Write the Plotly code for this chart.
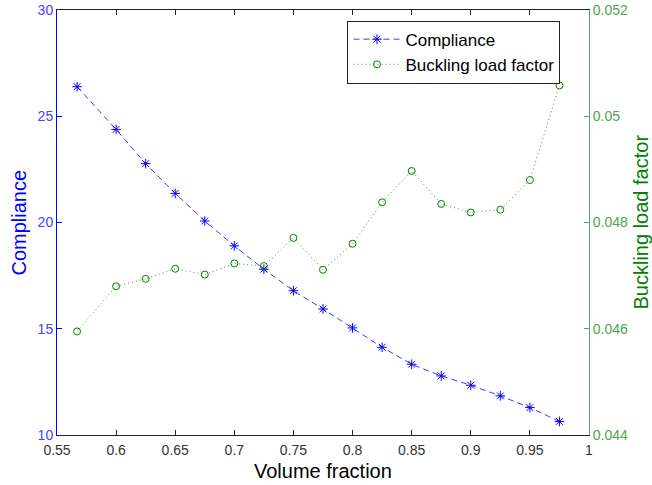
import plotly.graph_objects as go

volume_fraction = [0.567, 0.6, 0.625, 0.65, 0.675, 0.7, 0.725, 0.75, 0.775,
                   0.8, 0.825, 0.85, 0.875, 0.9, 0.925, 0.95, 0.975]
compliance = [26.39, 24.38, 22.77, 21.37, 20.07, 18.9, 17.8, 16.79, 15.93,
              15.04, 14.13, 13.33, 12.78, 12.34, 11.84, 11.29, 10.64]
buckling = [0.04595, 0.04680, 0.04694, 0.04713, 0.04702, 0.04723, 0.04718,
            0.04771, 0.04711, 0.04760, 0.04838, 0.04897, 0.04835, 0.04819,
            0.04824, 0.04880, 0.05058]

x_ticks = [0.55, 0.6, 0.65, 0.7, 0.75, 0.8, 0.85, 0.9, 0.95, 1.0]
x_tick_text = ["0.55", "0.6", "0.65", "0.7", "0.75", "0.8", "0.85", "0.9", "0.95", "1"]
y1_ticks = [10, 15, 20, 25, 30]
y2_ticks = [0.044, 0.046, 0.048, 0.05, 0.052]
y2_tick_text = ["0.044", "0.046", "0.048", "0.05", "0.052"]

FONT = "Liberation Sans, Arial, sans-serif"
BLUE = "#0000ff"
GREEN = "#008000"

fig = go.Figure()
fig.add_trace(go.Scatter(
    x=volume_fraction, y=compliance, name="Compliance", mode="lines+markers",
    line=dict(color="#3a3aff", width=1, dash="6px,4px"),
    marker=dict(symbol="asterisk-open", size=8, color=BLUE,
                line=dict(color=BLUE, width=1)),
    yaxis="y"))
fig.add_trace(go.Scatter(
    x=volume_fraction, y=buckling, name="Buckling load factor", mode="lines+markers",
    line=dict(color="#2a9a2a", width=1, dash="1px,3px"),
    marker=dict(symbol="circle-open", size=7, color=GREEN,
                line=dict(color="#1e8c1e", width=1)),
    yaxis="y2"))

fig.update_layout(
    width=652, height=485,
    margin=dict(l=57, r=63, t=10, b=50, autoexpand=False),
    paper_bgcolor="white", plot_bgcolor="white",
    font=dict(family=FONT, size=14, color="#222"),
    showlegend=True,
    legend=dict(x=0.546, y=0.975, xanchor="left", yanchor="top",
                bordercolor="#222", borderwidth=1, bgcolor="white",
                font=dict(family=FONT, size=17, color="black"),
                itemwidth=47, tracegroupgap=0),
    xaxis=dict(range=[0.55, 1.0], tickvals=x_ticks, ticktext=x_tick_text,
               ticks="inside", ticklen=5, tickcolor="#222", linecolor="#222",
               showline=True, mirror="ticks", showgrid=False, zeroline=False,
               automargin=False, ticklabelstandoff=2,
               tickfont=dict(family=FONT, size=14, color="#333")),
    yaxis=dict(range=[10, 30], tickvals=y1_ticks, ticks="inside", ticklen=5,
               tickcolor=BLUE, linecolor=BLUE, showline=True, showgrid=False, zeroline=False,
               automargin=False,
               tickfont=dict(family=FONT, size=14, color="#4444ff")),
    yaxis2=dict(range=[0.044, 0.052], tickvals=y2_ticks, ticktext=y2_tick_text,
                overlaying="y", side="right", ticks="inside", ticklen=5,
                tickcolor="#55aa55", linecolor="#55aa55", showline=True,
                showgrid=False, zeroline=False, automargin=False,
                tickfont=dict(family=FONT, size=14, color="#4ca64c")),
    annotations=[
        dict(text="Volume fraction", xref="paper", yref="paper", x=0.5, y=0,
             xanchor="center", yanchor="middle", yshift=-36, showarrow=False,
             font=dict(family=FONT, size=20, color="black")),
        dict(text="Compliance", xref="paper", yref="paper", x=0, y=0.5,
             xanchor="center", yanchor="middle", xshift=-39, textangle=-90,
             showarrow=False, font=dict(family=FONT, size=20, color=BLUE)),
        dict(text="Buckling load factor", xref="paper", yref="paper", x=1, y=0.5,
             xanchor="center", yanchor="middle", xshift=51, textangle=-90,
             showarrow=False, font=dict(family=FONT, size=20, color=GREEN)),
    ],
)

fig.write_html("out.html", config={"displayModeBar": False},
               post_script="document.body.style.margin='0';document.body.style.padding='0';")
